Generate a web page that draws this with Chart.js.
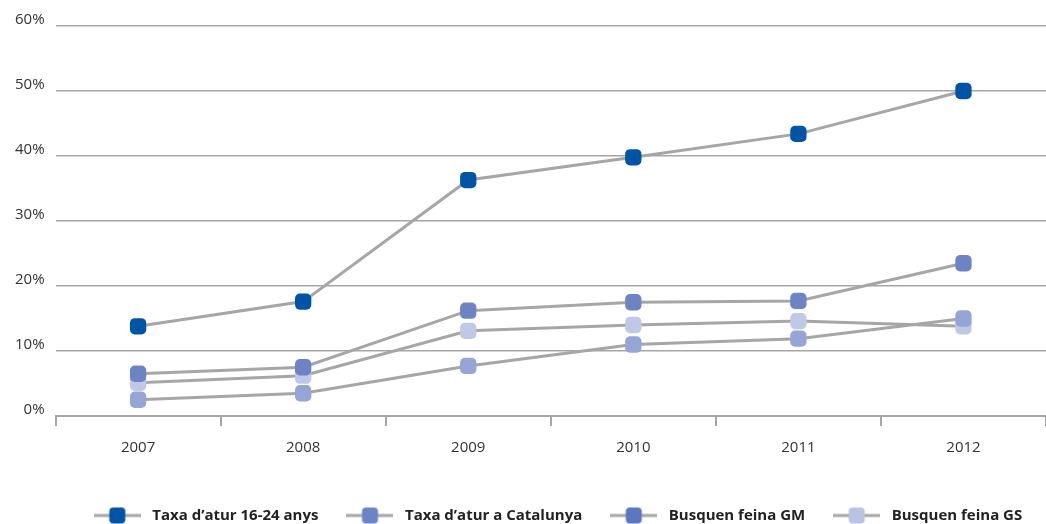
<!DOCTYPE html>
<html>
<head>
<meta charset="utf-8">
<script src="https://cdn.jsdelivr.net/npm/chart.js@4"></script>
<style>
  html, body { margin: 0; padding: 0; background: #fff; }
  #wrap { width: 1046px; height: 524px; }
</style>
</head>
<body>
<div id="wrap"><canvas id="grafico" width="1046" height="524"></canvas></div>
<script>
const anys = ['2007', '2008', '2009', '2010', '2011', '2012'];
const etiquetes = ['Taxa d\u2019atur 16-24 anys', 'Taxa d\u2019atur a Catalunya', 'Busquen feina GM', 'Busquen feina GS'];

const atur1624 = [13.8, 17.6, 36.3, 39.8, 43.4, 50.0];
const aturCatalunya = [6.5, 7.5, 16.2, 17.5, 17.7, 23.5];
const feinaGM = [2.5, 3.5, 7.7, 11.0, 11.9, 15.0];
const feinaGS = [5.1, 6.2, 13.1, 14.0, 14.6, 13.8];

const colorsPunt = ['#0054a6', '#6c84c4', '#95a5d6', '#bfc8e6'];
const colorsLlegenda = ['#0054a6', '#6c84c4', '#5a78bd', '#b9c3e3'];
const gris = '#a6a6a6';

function marcaLlegenda(color) {
    const c = document.createElement('canvas');
    c.width = 47; c.height = 18;
    const g = c.getContext('2d');
    g.strokeStyle = gris;
    g.lineWidth = 3;
    g.beginPath(); g.moveTo(0, 9); g.lineTo(47, 9); g.stroke();
    g.fillStyle = color;
    g.beginPath();
    g.roundRect(15.5, 1, 16, 16, 4);
    g.fill();
    return c;
}

// espai extra entre l'eix i la llegenda, i llegenda desplaçada avall i a la dreta
const margeLlegenda = {
    id: 'margeLlegenda',
    beforeInit(chart) {
        const legend = chart.legend;
        const fit = legend.fit;
        legend.fit = function () {
            fit.bind(legend)();
            this.height += 5;
        };
        const draw = legend.draw;
        legend.draw = function () {
            const c = chart.ctx;
            c.save();
            c.translate(31, 14);
            draw.apply(legend, arguments);
            c.restore();
        };
    }
};

const series = [atur1624, aturCatalunya, feinaGM, feinaGS];

const ctx = document.getElementById('grafico').getContext('2d');
new Chart(ctx, {
    type: 'line',
    data: {
        labels: anys,
        datasets: series.map((d, i) => ({
            label: etiquetes[i],
            data: d,
            borderColor: gris,
            borderWidth: 3,
            pointStyle: 'rectRounded',
            pointRadius: 9.5,
            pointHoverRadius: 9.5,
            pointBackgroundColor: colorsPunt[i],
            pointBorderWidth: 0,
            tension: 0
        }))
    },
    plugins: [margeLlegenda],
    options: {
        responsive: false,
        animation: false,
        layout: { autoPadding: false, padding: { top: 26, left: 4, right: 0, bottom: 0 } },
        plugins: {
            tooltip: { enabled: false },
            legend: {
                position: 'bottom',
                labels: {
                    usePointStyle: true,
                    pointStyleWidth: 55,
                    padding: 24,
                    color: '#222',
                    font: { family: 'Open Sans', size: 15, weight: 'bold' },
                    generateLabels: (chart) => etiquetes.map((t, i) => ({
                        text: t,
                        pointStyle: marcaLlegenda(colorsLlegenda[i]),
                        datasetIndex: i,
                        fontColor: '#222',
                        lineWidth: 0
                    }))
                }
            }
        },
        scales: {
            x: {
                offset: true,
                grid: {
                    offset: true,
                    drawOnChartArea: false,
                    drawTicks: true,
                    tickLength: 10,
                    color: gris,
                    lineWidth: 2
                },
                border: { display: true, color: gris, width: 2 },
                ticks: {
                    padding: 13,
                    color: '#333',
                    font: { family: 'Open Sans', size: 15 }
                }
            },
            y: {
                min: 0,
                max: 60,
                grid: { color: gris, lineWidth: 1.5, drawTicks: false },
                border: { display: false },
                ticks: {
                    stepSize: 10,
                    padding: 11,
                    labelOffset: -6,
                    color: '#333',
                    font: { family: 'Open Sans', size: 15 },
                    callback: (v) => v + '%'
                }
            }
        }
    }
});
</script>
</body>
</html>
